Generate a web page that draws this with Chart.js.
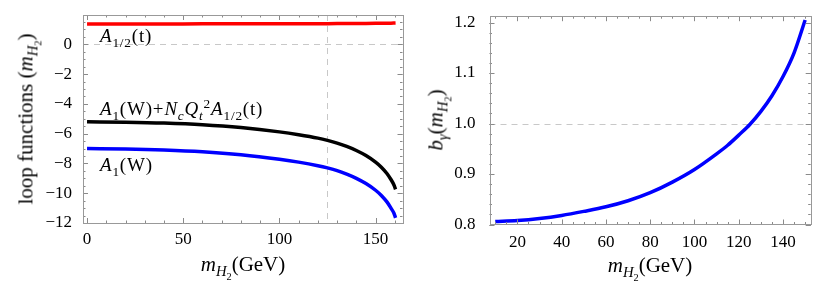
<!DOCTYPE html>
<html>
<head>
<meta charset="utf-8">
<script src="https://cdn.jsdelivr.net/npm/chart.js@4.4.0/dist/chart.umd.min.js"></script>
<style>
  body { margin: 0; background: #fff; width: 831px; height: 295px; overflow: hidden; position: relative;
         font-family: 'Liberation Serif', 'Times New Roman', serif; }
  .box { position: absolute; top: 0; height: 295px; }
  #leftBox { left: 0; width: 420px; }
  #rightBox { left: 420px; width: 411px; }
  .txt { position: absolute; white-space: nowrap; color: #000; line-height: 1; }
  .txt sub, .txt sup { font-size: 70%; line-height: 0; }
  .lbl { font-size: 19px; letter-spacing: 0.8px; }
  .title { font-size: 21px; }
  .xt { transform: translateX(-50%); }
  .rot { transform: translate(-50%, -50%) rotate(-90deg); }
</style>
</head>
<body>
<div class="box" id="leftBox"><canvas id="leftChart"></canvas></div>
<div class="box" id="rightBox"><canvas id="rightChart"></canvas></div>

<!-- curve labels -->
<div class="txt lbl" style="left:100px; top:26px;"><i>A</i><sub>1/2</sub>(t)</div>
<div class="txt lbl" style="left:100px; top:99px;"><i>A</i><sub>1</sub>(W)+<i>N</i><sub><i>c</i></sub><i>Q</i><sub><i>t</i></sub><sup>2</sup><i>A</i><sub>1/2</sub>(t)</div>
<div class="txt lbl" style="left:100px; top:155px;"><i>A</i><sub>1</sub>(W)</div>

<!-- axis titles -->
<div class="txt title xt" style="left:243px; top:254px;"><i>m</i><sub><i>H</i><sub>2</sub></sub>(GeV)</div>
<div class="txt title xt" style="left:650px; top:255px;"><i>m</i><sub><i>H</i><sub>2</sub></sub>(GeV)</div>
<div class="txt title rot" style="left:27px; top:119px;">loop functions (<i>m</i><sub><i>H</i><sub>2</sub></sub>)</div>
<div class="txt title rot" style="left:437px; top:120px;"><i>b</i><sub><i>γ</i></sub>(<i>m</i><sub><i>H</i><sub>2</sub></sub>)</div>

<script>
// ---- left panel: loop functions vs m_H2 ----
const massLeft = [0, 20, 40, 60, 80, 100, 110, 120, 125, 130, 135, 140, 145, 150, 153, 156, 158, 159.5, 160.4];
const topLoop  = [1.37, 1.37, 1.372, 1.374, 1.377, 1.38, 1.383, 1.387, 1.389, 1.392, 1.396, 1.4, 1.405, 1.411, 1.415, 1.42, 1.423, 1.427, 1.43];
const sumLoop  = [-5.2, -5.23, -5.29, -5.4, -5.59, -5.88, -6.07, -6.3, -6.45, -6.63, -6.86, -7.13, -7.47, -7.91, -8.25, -8.69, -9.08, -9.43, -9.74];
const wLoop    = [-7.0, -7.03, -7.1, -7.22, -7.42, -7.72, -7.91, -8.15, -8.3, -8.48, -8.72, -9.0, -9.35, -9.8, -10.15, -10.6, -11.0, -11.33, -11.65];
const leftXTicks = [0, 50, 100, 150];
const leftYTicks = [-12, -10, -8, -6, -4, -2, 0];

// ---- right panel: b_gamma vs m_H2 ----
const massRight = [10, 20, 30, 40, 50, 60, 70, 80, 90, 100, 110, 115, 120, 125, 130, 135, 140, 145, 150];
const bGamma    = [0.806, 0.808, 0.812, 0.818, 0.826, 0.835, 0.847, 0.863, 0.884, 0.909, 0.94, 0.957, 0.977, 0.998, 1.024, 1.055, 1.093, 1.14, 1.205];
const rightXTicks = [20, 40, 60, 80, 100, 120, 140];
const rightYTicks = [0.8, 0.9, 1.0, 1.1, 1.2];

const serif = "'Liberation Serif', serif";
Chart.defaults.font.family = serif;
Chart.defaults.font.size = 17;
Chart.defaults.color = '#000';

function toPoints(xs, ys) {
    return xs.map((x, i) => ({ x: x, y: ys[i] }));
}

function line(ctx, x1, y1, x2, y2) {
    ctx.beginPath();
    ctx.moveTo(x1, y1);
    ctx.lineTo(x2, y2);
    ctx.stroke();
}

/**
 * Mathematica style frame: gray box, inward ticks on all sides, dashed reference lines
 */
const framePlugin = {
    id: 'frame',
    beforeDatasetsDraw(chart, args, opts) {
        const { ctx, chartArea: a, scales: { x, y } } = chart;
        ctx.save();
        ctx.strokeStyle = '#c8c8c8';
        ctx.lineWidth = 1;
        ctx.setLineDash([6, 5]);
        (opts.dashX || []).forEach(v => {
            const px = Math.round(x.getPixelForValue(v)) + 0.5;
            line(ctx, px, a.top, px, a.bottom);
        });
        (opts.dashY || []).forEach(v => {
            const py = Math.round(y.getPixelForValue(v)) + 0.5;
            line(ctx, a.left, py, a.right, py);
        });
        ctx.restore();
    },
    afterDatasetsDraw(chart, args, opts) {
        const { ctx, chartArea: a, scales: { x, y } } = chart;
        ctx.save();
        ctx.strokeStyle = '#8a8a8a';
        ctx.lineWidth = 1;

        const drawX = (v, len) => {
            const px = Math.round(x.getPixelForValue(v)) + 0.5;
            line(ctx, px, a.bottom, px, a.bottom - len);
            line(ctx, px, a.top, px, a.top + len);
        };
        const drawY = (v, len) => {
            const py = Math.round(y.getPixelForValue(v)) + 0.5;
            line(ctx, a.left, py, a.left + len, py);
            line(ctx, a.right, py, a.right - len, py);
        };
        // minor ticks
        for (let v = Math.ceil(x.min / opts.xMinor) * opts.xMinor; v <= x.max + 1e-9; v += opts.xMinor) drawX(v, 2.5);
        for (let v = Math.ceil(y.min / opts.yMinor - 1e-9) * opts.yMinor; v <= y.max + 1e-9; v += opts.yMinor) drawY(v, 2.5);
        // major ticks
        x.ticks.forEach(t => drawX(t.value, 5));
        y.ticks.forEach(t => drawY(t.value, 5));

        ctx.strokeStyle = '#999';
        ctx.strokeRect(Math.round(a.left) + 0.5, Math.round(a.top) + 0.5,
                       Math.round(a.right - a.left), Math.round(a.bottom - a.top));
        ctx.restore();
    }
};

function makeChart(id, cfg) {
    return new Chart(document.getElementById(id), {
        type: 'scatter',
        data: { datasets: cfg.datasets },
        options: {
            responsive: true,
            maintainAspectRatio: false,
            animation: false,
            layout: { padding: cfg.padding },
            elements: {
                point: { radius: 0, hoverRadius: 0 },
                line: { borderWidth: 3.5, cubicInterpolationMode: 'monotone', fill: false }
            },
            plugins: {
                legend: { display: false },
                tooltip: { enabled: false },
                frame: cfg.frame
            },
            scales: {
                x: {
                    type: 'linear',
                    min: cfg.xMin,
                    max: cfg.xMax,
                    afterBuildTicks: s => { s.ticks = cfg.xTicks.map(v => ({ value: v })); },
                    afterFit: s => { s.height = cfg.xHeight; },
                    grid: { display: false },
                    border: { display: false },
                    ticks: {
                        autoSkip: false,
                        maxRotation: 0,
                        padding: cfg.xPad,
                        color: '#000',
                        font: { family: serif, size: 17 }
                    }
                },
                y: {
                    type: 'linear',
                    min: cfg.yMin,
                    max: cfg.yMax,
                    afterBuildTicks: s => { s.ticks = cfg.yTicks.map(v => ({ value: v })); },
                    afterFit: s => { s.width = cfg.yWidth; },
                    grid: { display: false },
                    border: { display: false },
                    ticks: {
                        padding: cfg.yPad,
                        color: '#000',
                        font: { family: serif, size: 17 },
                        callback: cfg.yFormat
                    }
                }
            }
        },
        plugins: [framePlugin]
    });
}

makeChart('leftChart', {
    datasets: [
        { data: toPoints(massLeft, topLoop), showLine: true, borderColor: '#ff0000' },
        { data: toPoints(massLeft, sumLoop), showLine: true, borderColor: '#000000' },
        { data: toPoints(massLeft, wLoop), showLine: true, borderColor: '#0000ff' }
    ],
    padding: { left: 0, right: 17.5, top: 15, bottom: 0 },
    xMin: -2.1, xMax: 164, xTicks: leftXTicks, xHeight: 72, xPad: -2,
    yMin: -12, yMax: 1.97, yTicks: leftYTicks, yWidth: 83, yPad: 3,
    yFormat: v => (v < 0 ? '\u2212' + Math.abs(v) : String(v)),
    frame: { xMinor: 10, yMinor: 0.5, dashX: [125], dashY: [0] }
});

makeChart('rightChart', {
    datasets: [
        { data: toPoints(massRight, bGamma), showLine: true, borderColor: '#0000ff' }
    ],
    padding: { left: 0, right: 20.3, top: 15.5, bottom: 0 },
    xMin: 7.4, xMax: 152.5, xTicks: rightXTicks, xHeight: 70.5, xPad: 0,
    yMin: 0.8, yMax: 1.2125, yTicks: rightYTicks, yWidth: 69.5, yPad: 6,
    yFormat: v => v.toFixed(1),
    frame: { xMinor: 5, yMinor: 0.02, dashX: [], dashY: [1.0] }
});
</script>
</body>
</html>
